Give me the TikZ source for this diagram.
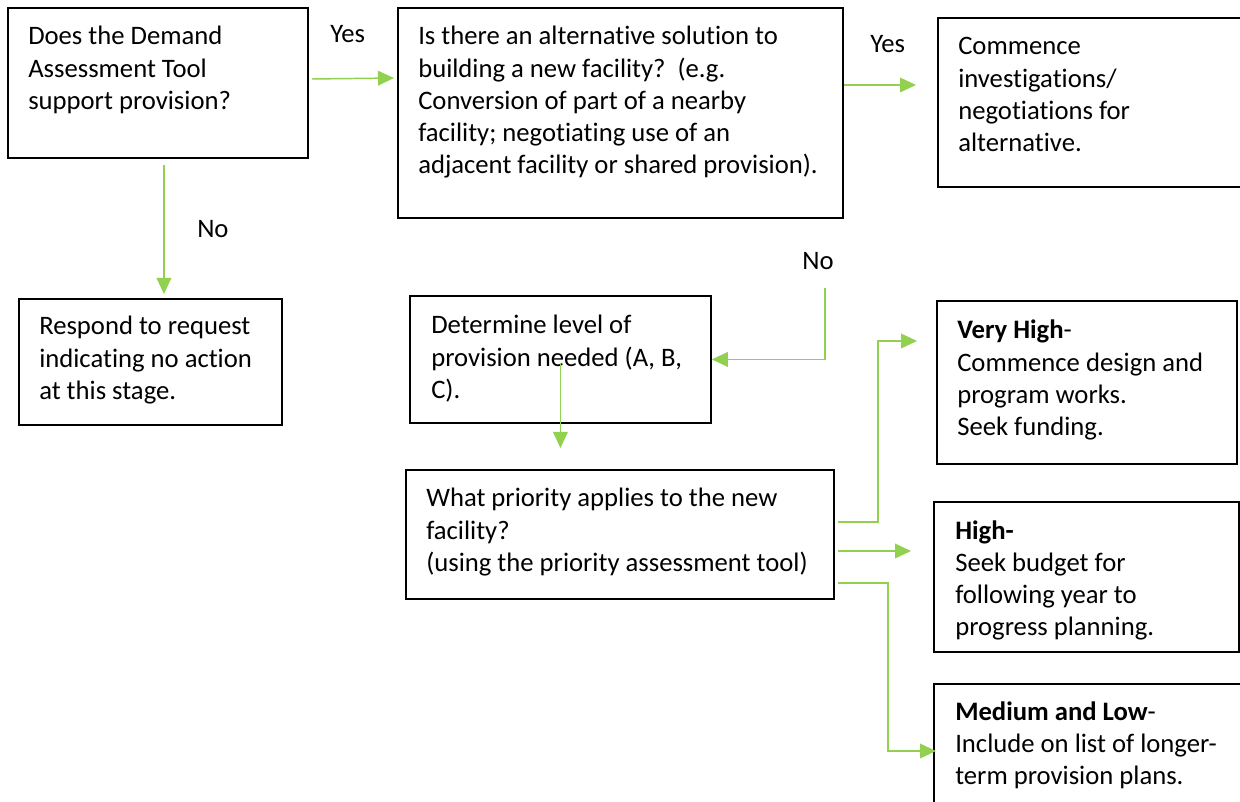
\documentclass[tikz,border=0pt]{standalone}
\usepackage{fontspec}
\setmainfont{Carlito}[Ligatures=NoCommon]
\usetikzlibrary{arrows.meta,calc}
\definecolor{linegreen}{RGB}{146,208,80}
\newcommand\mainsize{\fontsize{20pt}{24.1pt}\selectfont}
\newcommand\ml[1]{\begin{tabular}[t]{@{}l@{}}#1\end{tabular}}
\tikzset{
  boxx/.style={draw=black, line width=1.4pt, inner sep=0pt, anchor=north west},
  txt/.style={inner sep=0pt, anchor=base west, font=\mainsize},
  conn/.style={draw=linegreen, line width=1.1pt},
  arr/.style={conn, -{Triangle[length=12pt,width=11pt]}},
}
\begin{document}
\begin{tikzpicture}[x=0.75pt,y=-0.75pt]
\clip (0,0) rectangle (1240,802);
\fill[white] (0,0) rectangle (1240,802);
% boxes
\node[boxx, minimum width=225pt,    minimum height=112.5pt]  (b1) at (7,7) {};
\node[boxx, minimum width=333.75pt, minimum height=157.5pt]  (b2) at (397,7) {};
\node[boxx, minimum width=234.75pt, minimum height=126.75pt] (b3) at (937,17) {};
\node[boxx, minimum width=197.25pt, minimum height=94.5pt]   (b4) at (18,298) {};
\node[boxx, minimum width=225.75pt, minimum height=95.25pt]  (b5) at (409,295) {};
\node[boxx, minimum width=321pt,    minimum height=96.75pt]  (b6) at (405,469) {};
\node[boxx, minimum width=225pt,    minimum height=122.25pt] (b7) at (936,300) {};
\node[boxx, minimum width=228.75pt, minimum height=112.5pt]  (b8) at (933,501) {};
\node[boxx, minimum width=237.75pt, minimum height=102.75pt] (b9) at (933,683) {};
% texts
\node[txt] (t1) at (28,45) {\ml{Does the Demand\\Assessment Tool\\support provision?}};
\node[txt] (t2) at (418,45) {\ml{Is there an alternative solution to\\building a new facility?\ \ (e.g.\\Conversion of part of a nearby\\facility; negotiating use of an\\adjacent facility or shared provision).}};
\node[txt] (t3) at (958,55) {\ml{Commence\\investigations/\\negotiations for\\alternative.}};
\node[txt] (t4) at (39,335) {\ml{Respond to request\\indicating no action\\at this stage.}};
\node[txt] (t5) at (431,334) {\ml{Determine level of\\provision needed (A, B,\\C).}};
\node[txt] (t6) at (426,507) {\ml{What priority applies to the new\\facility?\\(using the priority assessment tool)}};
\node[txt] (t7) at (957,339) {\ml{\textbf{Very High}-\\Commence design and\\program works.\\Seek funding.}};
\node[txt] (t8) at (955,539) {\ml{\textbf{High-}\\Seek budget for\\following year to\\progress planning.}};
\node[txt] (t9) at (955,720) {\ml{\textbf{Medium and Low}-\\Include on list of longer-\\term provision plans.}};
% labels
\node[txt] (yes1) at (330,43) {Yes};
\node[txt] (yes2) at (870,53) {Yes};
\node[txt] (no1) at (197,238) {No};
\node[txt] (no2) at (802,270) {No};
% connectors
\draw[arr] ($(b1.north east)+(3,72)$) -- ($(b2.north west)+(-3,71)$);
\draw[arr] ($(b2.north east)+(0,78)$) -- ($(b3.north west)+(-21,68)$);
\draw[arr] ($(b1.south)+(6,6)$) -- ($(b4.north)+(13.5,-4)$);
\coordinate (cno) at ($(b5.north east)+(113,-7)$);
\draw[arr] (cno) |- (b5.east);
\draw[arr] ($(b5.south)+(0,-60)$) -- ($(b5.south |- b6.north)+(0,-21)$);
\draw[arr] ($(b6.north east)+(3,53)$) -- ++(40,0) |- ($(b7.north west)+(-19,41)$);
\draw[arr] ($(b6.north east)+(3,82)$) -- ($(b8.north west)+(-22,50)$);
\draw[arr] ($(b6.north east)+(3,114)$) -- ++(50,0) |- ($(b9.north west)+(3,68)$);
\end{tikzpicture}
\end{document}
